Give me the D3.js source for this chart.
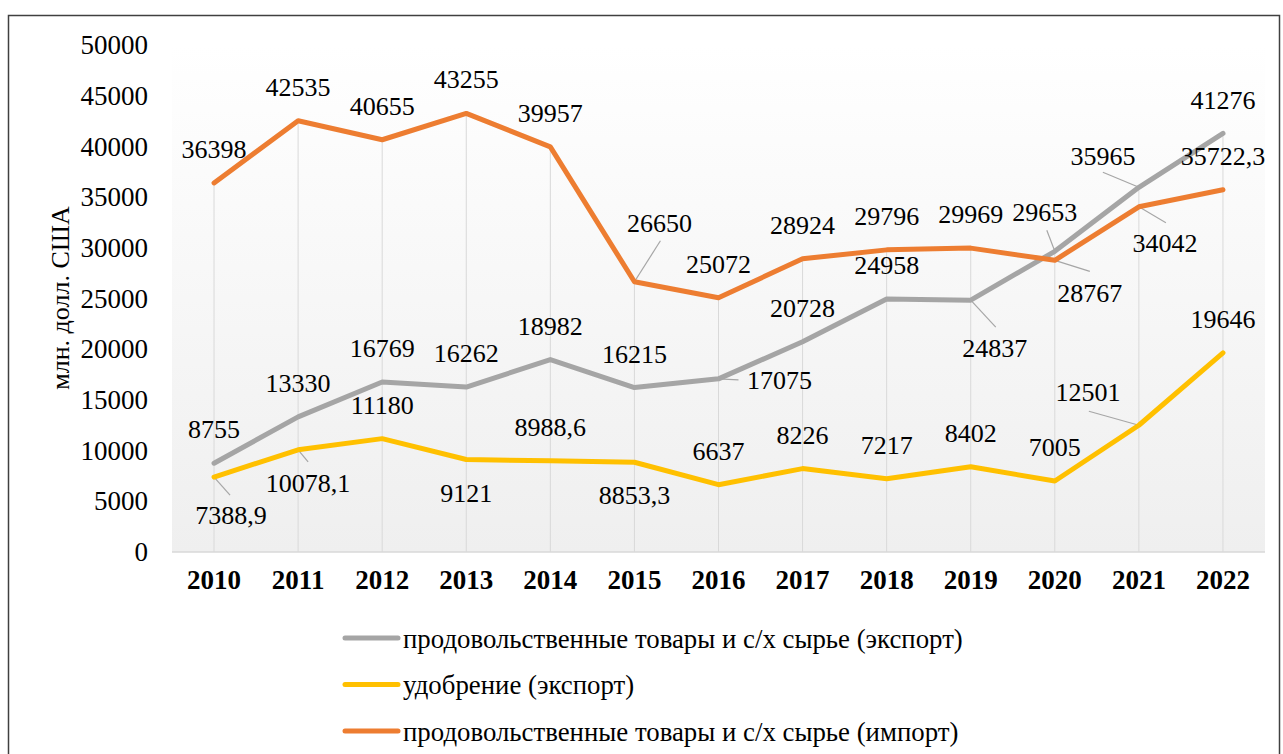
<!DOCTYPE html>
<html>
<head>
<meta charset="utf-8">
<script src="https://cdn.jsdelivr.net/npm/d3@7"></script>
</head>
<body style="margin:0; background:#fff">
<svg width="1283" height="754"></svg>
<script>
// data
var years = ['2010', '2011', '2012', '2013', '2014', '2015', '2016', '2017', '2018', '2019', '2020', '2021', '2022']
var foodExport = [8755, 13330, 16769, 16262, 18982, 16215, 17075, 20728, 24958, 24837, 29653, 35965, 41276]
var fertExport = [7388.9, 10078.1, 11180, 9121, 8988.6, 8853.3, 6637, 8226, 7217, 8402, 7005, 12501, 19646]
var foodImport = [36398, 42535, 40655, 43255, 39957, 26650, 25072, 28924, 29796, 29969, 28767, 34042, 35722.3]
var yTicks = [0, 5000, 10000, 15000, 20000, 25000, 30000, 35000, 40000, 45000, 50000]
var seriesNames = [
  'продовольственные товары и с/х сырье (экспорт)',
  'удобрение (экспорт)',
  'продовольственные товары и с/х сырье (импорт)'
]

// label placement (pixel nudges): [dx, dy] or [dx, dy, leaderX, leaderY]
var A = [0, -34], B = [0, 33]
var foodExportLabels = [A, A, A, A, A, A, [61, 1, 20, 1], A, A, [24, 48, 25, 27], [-10, -39, -8, -21], [-36, -31, -36, -15], A]
var fertExportLabels = [[17, 38, 16, 18], [10, 33, 10, 12], A, B, A, B, A, A, A, A, A, [-51, -33, -50, -14], A]
var foodImportLabels = [A, A, A, A, A, [25, -59, 26, -41], A, A, A, A, [35, 33, 35, 11], [26, 36, 27, 16], A]

var FONT = 'Liberation Serif'
var svg = d3.select('svg')
var plot = {left: 172, right: 1265, top: 45, bottom: 552}

var x = d3.scaleBand().domain(years).range([plot.left, plot.right])
var y = d3.scaleLinear().domain([0, 50000]).range([plot.bottom, plot.top])
var cx = function (i) { return x(years[i]) + x.bandwidth() / 2 }

function serif (sel, size) {
  sel.attr('font-family', FONT)
    .style('font-family', FONT)
    .style('font-size', size + 'px')
    .attr('fill', '#000')
}

// outer border
svg.append('rect')
  .attr('x', 8.5).attr('y', 15.5)
  .attr('width', 1271).attr('height', 760)
  .attr('fill', 'none')
  .attr('stroke', '#404040')
  .attr('stroke-width', 1.5)

// plot area gradient
var grad = svg.append('defs').append('linearGradient')
  .attr('id', 'bg').attr('x1', 0).attr('y1', 0).attr('x2', 0).attr('y2', 1)
grad.append('stop').attr('offset', '0%').attr('stop-color', '#ffffff')
grad.append('stop').attr('offset', '100%').attr('stop-color', '#efefef')

svg.append('rect')
  .attr('x', plot.left).attr('y', plot.top)
  .attr('width', plot.right - plot.left).attr('height', plot.bottom - plot.top)
  .attr('fill', 'url(#bg)')

// drop lines
svg.append('g').selectAll('line')
  .data(years)
  .join('line')
  .attr('x1', (d, i) => cx(i)).attr('x2', (d, i) => cx(i))
  .attr('y1', (d, i) => y(Math.max(foodExport[i], fertExport[i], foodImport[i])))
  .attr('y2', plot.bottom)
  .attr('stroke', '#d9d9d9')
  .attr('stroke-width', 1)

// category axis line
svg.append('line')
  .attr('x1', plot.left).attr('x2', plot.right)
  .attr('y1', plot.bottom).attr('y2', plot.bottom)
  .attr('stroke', '#d9d9d9').attr('stroke-width', 1.5)

// y axis
var yAxis = d3.axisLeft(y).tickValues(yTicks).tickFormat(d3.format('d')).tickSize(0).tickPadding(24)
var yg = svg.append('g')
  .attr('transform', 'translate(' + plot.left + ',0)')
  .call(yAxis)
yg.attr('font-family', null).attr('font-size', null)
yg.select('.domain').remove()
yg.selectAll('text').call(serif, 27)

// x axis
var xAxis = d3.axisBottom(x).tickSize(0).tickPadding(18)
var xg = svg.append('g')
  .attr('transform', 'translate(0,' + plot.bottom + ')')
  .call(xAxis)
xg.attr('font-family', null).attr('font-size', null)
xg.select('.domain').remove()
xg.selectAll('text').call(serif, 27).style('font-weight', 'bold')

// y axis title
svg.append('text')
  .attr('transform', 'translate(60,298) rotate(-90)')
  .attr('text-anchor', 'middle')
  .attr('dy', '0.35em')
  .text('млн. долл. США')
  .call(serif, 26)

var series = [
  {values: foodExport, color: '#a5a5a5', labels: foodExportLabels},
  {values: fertExport, color: '#ffc000', labels: fertExportLabels},
  {values: foodImport, color: '#ed7d31', labels: foodImportLabels}
]

var line = d3.line()
  .x((d, i) => cx(i))
  .y(d => y(d))

var fmt = function (v) { return String(v).replace('.', ',') }

// leader lines first, then series lines, then labels
series.forEach(function (s) {
  svg.append('g').selectAll('line')
    .data(s.values.map((v, i) => ({v: v, i: i, l: s.labels[i]})).filter(d => d.l.length > 2))
    .join('line')
    .attr('x1', d => cx(d.i)).attr('y1', d => y(d.v))
    .attr('x2', d => cx(d.i) + d.l[2]).attr('y2', d => y(d.v) + d.l[3])
    .attr('stroke', '#a6a6a6').attr('stroke-width', 1.2)
})

series.forEach(function (s) {
  svg.append('path')
    .datum(s.values)
    .attr('fill', 'none')
    .attr('stroke', s.color)
    .attr('stroke-width', 5)
    .attr('stroke-linejoin', 'round')
    .attr('stroke-linecap', 'round')
    .attr('d', line)
})

series.forEach(function (s) {
  svg.append('g').selectAll('text')
    .data(s.values)
    .join('text')
    .attr('x', (d, i) => cx(i) + s.labels[i][0])
    .attr('y', (d, i) => y(d) + s.labels[i][1])
    .attr('dy', '0.35em')
    .attr('text-anchor', 'middle')
    .text(fmt)
    .call(serif, 26)
})

// legend
var legend = svg.append('g').selectAll('g')
  .data(series)
  .join('g')
  .attr('transform', (d, i) => 'translate(345,' + (638 + i * 46.5) + ')')
legend.append('line')
  .attr('x1', 0).attr('x2', 53)
  .attr('stroke', d => d.color)
  .attr('stroke-width', 5)
  .attr('stroke-linecap', 'round')
var legendText = legend.append('text')
  .attr('dy', '0.35em')
  .text((d, i) => seriesNames[i])
  .call(serif, 28)
// the reference legend text is set a bit wider than normal
var natural = legendText.node().getComputedTextLength()
var sx = 560 / natural
legendText.attr('transform', 'translate(58,0) scale(' + sx + ',1)')
</script>
</body>
</html>
